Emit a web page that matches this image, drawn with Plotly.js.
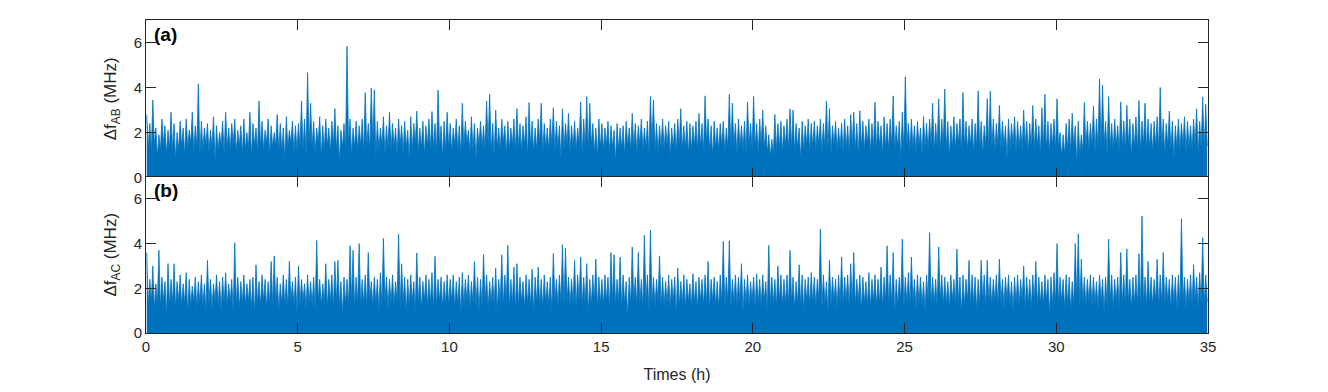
<!DOCTYPE html>
<html>
<head>
<meta charset="utf-8">
<script src="https://cdn.plot.ly/plotly-3.0.1.min.js"></script>
<style>html,body{margin:0;padding:0;background:#fff;}#chart{width:1328px;height:392px;}</style>
</head>
<body>
<div id="chart"></div>
<script>
// Time span of the record (hours) and tick labels
const T_END = 35;
const xTicks = [0, 5, 10, 15, 20, 25, 30, 35];
const yTicks = [0, 2, 4, 6];

// Panel (a): Δf_AB (MHz) — local maxima per 0.1 h window
const peaksAB = [
2.8,2.4,3.44,2.2,1.9,2.6,2.3,2.1,2.9,2.4,
2.0,2.5,2.2,2.6,2.1,2.9,2.3,4.16,2.5,2.2,
2.4,2.1,2.7,2.3,2.0,2.5,2.9,2.2,2.4,2.6,
2.1,2.3,2.6,2.0,2.9,2.4,2.2,3.4,2.5,2.1,
2.6,2.3,2.0,2.8,2.4,2.2,2.7,2.1,2.5,2.3,
2.4,3.4,2.6,4.66,3.3,2.5,2.2,2.7,2.3,2.6,
2.2,2.5,3.06,2.3,2.1,2.4,5.83,2.6,2.2,2.5,
2.3,2.6,3.77,2.4,3.98,3.9,2.5,2.2,2.7,2.3,
2.9,2.4,2.2,2.6,2.3,2.5,2.1,2.7,2.4,2.95,
2.2,2.5,2.3,2.6,2.93,2.4,3.89,2.3,2.5,2.9,
2.4,2.2,2.6,2.3,3.3,2.5,2.1,2.7,2.4,2.2,
2.5,2.3,3.4,3.7,2.4,3.0,2.2,2.6,2.3,2.5,
2.2,2.6,3.06,2.4,2.3,2.7,3.33,2.5,2.2,2.6,
3.3,2.4,2.2,2.6,3.1,2.5,2.3,3.05,2.4,2.85,
2.3,2.5,2.2,3.36,2.6,3.6,3.3,2.4,2.2,2.6,
2.4,2.2,2.5,2.3,2.1,2.4,2.2,2.3,2.5,2.2,
2.85,2.4,2.3,2.6,2.2,2.5,3.6,3.45,2.4,2.3,
2.6,2.3,2.5,2.2,2.4,2.6,3.06,2.3,2.5,2.4,
2.3,2.5,2.85,2.4,3.63,2.6,2.3,2.5,2.2,2.4,
2.5,2.2,3.7,3.3,2.4,2.6,2.3,2.5,3.35,2.4,
3.6,2.4,2.6,3.0,2.3,1.9,1.7,2.8,2.4,2.5,
2.3,2.6,3.05,3.0,2.4,2.2,2.5,2.3,2.6,2.4,
2.5,2.3,2.6,2.4,3.4,3.06,2.3,2.5,2.2,2.4,
2.6,2.3,2.8,2.9,2.4,2.97,2.5,2.3,2.6,2.4,
3.35,2.5,2.3,2.7,2.4,2.6,3.63,2.3,2.5,2.9,
4.48,2.4,2.6,2.3,2.5,2.2,2.7,2.4,2.6,3.3,
2.4,3.5,2.6,3.93,2.5,2.3,2.7,2.4,2.6,3.78,
2.5,2.3,2.6,2.4,3.85,2.5,2.3,3.5,3.83,2.6,
2.4,3.2,2.5,2.3,2.6,2.4,2.7,2.5,2.3,3.0,
2.5,2.4,3.2,2.6,2.3,3.1,3.7,2.5,2.4,2.6,
3.5,2.0,1.9,2.4,2.6,2.85,2.3,2.5,1.9,3.33,
2.5,2.4,3.17,2.6,4.38,4.1,2.5,3.6,2.4,2.6,
2.3,3.36,2.5,3.2,2.6,2.4,2.7,3.42,2.5,3.3,
2.6,2.4,2.5,2.7,4.0,2.6,2.4,2.95,2.5,2.3,
2.6,2.4,2.7,2.5,2.3,2.6,3.05,2.5,3.58,3.25
];
// Panel (a): local minima between those maxima
const troughsAB = [
1.3,1.1,1.4,0.9,1.2,1.5,1.0,1.3,1.2,0.8,
1.2,1.4,1.0,1.3,1.5,1.1,1.3,0.9,1.2,1.4,
1.1,1.3,0.7,1.2,1.4,1.0,1.3,1.2,1.5,1.1,
1.4,1.0,1.2,1.3,0.9,1.4,1.1,1.3,1.2,1.5,
1.0,1.3,1.4,1.1,1.2,0.8,1.3,1.5,1.1,1.2,
1.3,1.2,1.0,1.4,1.3,1.1,1.5,0.9,1.2,1.4,
1.1,1.4,1.2,0.7,1.3,1.2,1.4,1.0,1.3,1.2,
1.4,1.1,1.3,1.2,1.5,0.9,1.2,1.4,1.0,1.3,
1.2,1.3,1.0,1.4,1.1,1.3,0.8,1.2,1.5,1.1,
1.3,1.0,1.4,1.2,1.3,1.1,1.4,0.9,1.2,1.3,
1.1,1.4,1.2,1.0,1.3,1.5,1.1,1.2,0.8,1.4,
1.3,1.2,1.4,1.1,0.9,1.3,1.2,1.5,1.0,1.2,
1.4,1.1,1.3,1.2,1.4,0.9,1.3,1.1,1.2,1.5,
1.0,1.3,1.2,1.4,1.1,1.3,0.8,1.2,1.4,1.1,
1.3,1.2,1.5,1.0,1.3,1.2,1.4,1.1,0.9,1.3,
1.2,1.4,1.1,1.3,0.7,1.2,1.3,1.0,1.4,1.2,
1.3,1.1,1.4,1.2,1.3,1.0,1.5,1.2,1.1,1.3,
1.2,1.4,0.9,1.3,1.1,1.4,1.2,1.3,1.0,1.2,
1.4,1.2,1.3,1.1,1.5,1.2,0.9,1.3,1.2,1.4,
1.1,1.3,1.2,1.4,1.0,1.3,1.2,1.1,1.4,1.2,
1.3,1.0,1.4,1.2,1.1,0.9,1.0,1.2,1.3,1.1,
1.4,1.2,1.3,1.1,1.3,0.8,1.2,1.4,1.1,1.3,
1.2,1.4,1.1,1.3,1.2,1.0,1.4,1.2,1.3,1.1,
1.3,1.1,1.4,1.2,0.9,1.3,1.2,1.5,1.1,1.3,
1.2,1.4,1.0,1.3,1.2,1.4,1.1,1.3,0.8,1.2,
1.4,1.2,1.3,1.1,1.4,1.0,1.3,1.2,1.4,1.1,
1.3,1.1,1.4,1.2,0.9,1.3,1.2,1.5,1.1,1.3,
1.2,1.4,1.1,1.3,1.2,1.0,1.4,1.2,1.3,1.1,
1.4,1.2,1.3,0.8,1.2,1.4,1.1,1.3,1.2,1.4,
1.1,1.3,1.2,1.4,1.0,1.3,1.2,1.1,1.4,1.2,
1.3,0.9,1.0,1.2,1.1,1.3,0.6,1.0,1.1,1.3,
1.2,1.4,1.1,1.3,1.2,1.4,1.0,1.3,1.2,1.4,
1.1,1.3,1.2,1.4,0.9,1.3,1.2,1.1,1.4,1.2,
1.3,1.1,1.4,1.2,1.3,1.0,1.4,1.2,0.8,1.3,
1.2,1.4,1.1,1.3,1.2,1.4,1.0,1.3,1.2,1.4
];

// Panel (b): Δf_AC (MHz) — local maxima per 0.1 h window
const peaksAC = [
3.6,2.4,3.0,2.2,3.7,2.5,2.3,3.1,2.4,3.1,
2.3,2.6,2.2,2.7,2.4,2.1,2.5,2.3,2.6,2.2,
3.25,2.4,2.2,2.6,2.3,2.5,2.7,2.2,2.4,4.04,
2.5,2.3,2.6,2.2,2.4,2.5,3.05,2.3,2.6,2.4,
2.3,3.2,3.45,2.5,2.2,2.6,2.4,3.2,2.3,2.5,
3.0,2.4,2.2,2.6,2.3,2.5,4.14,2.4,2.2,3.1,
2.4,2.6,3.2,3.25,2.3,2.5,2.4,3.9,3.7,2.5,
4.0,2.4,2.6,3.6,2.3,2.5,2.4,2.7,4.23,2.5,
2.4,2.6,2.3,4.41,3.1,2.5,2.4,2.6,2.3,3.58,
2.5,2.3,2.6,2.4,2.7,3.43,2.4,2.5,2.3,2.6,
2.4,2.6,2.3,2.5,2.7,2.4,2.6,2.3,3.2,2.5,
2.4,3.5,2.6,2.3,2.5,2.9,2.4,3.5,2.6,3.92,
2.4,2.95,3.1,2.5,2.3,2.6,2.4,2.85,2.5,2.95,
2.4,2.6,2.3,2.5,3.55,2.4,2.6,3.95,3.8,2.5,
2.4,3.25,2.6,3.4,2.5,3.1,2.4,2.6,3.3,2.5,
2.4,2.6,2.5,3.6,3.5,2.4,3.4,2.6,2.3,2.5,
3.85,2.5,3.6,2.4,4.37,2.6,4.6,2.5,2.4,3.45,
2.5,2.3,2.6,2.4,2.5,2.9,2.3,2.6,2.4,2.2,
2.65,2.3,2.5,2.4,2.6,3.2,2.4,2.5,2.3,2.6,
4.1,2.5,4.13,2.4,2.6,2.5,3.1,2.4,2.6,2.3,
2.5,2.65,2.4,2.6,2.3,3.92,2.5,2.4,3.0,2.6,
2.4,2.6,3.7,2.5,2.3,3.05,2.6,2.4,2.5,2.7,
2.5,2.4,4.64,2.6,2.3,3.25,2.5,2.4,2.6,3.4,
2.5,2.6,3.1,3.6,2.4,2.6,2.5,2.3,2.7,2.4,
2.6,2.4,2.95,2.5,3.9,2.6,3.6,2.4,2.5,4.2,
2.5,2.7,3.4,2.4,2.6,2.5,2.3,2.6,4.49,2.5,
2.4,3.85,2.6,2.5,2.3,2.6,2.4,3.75,2.5,2.6,
2.4,3.25,2.6,2.5,2.4,3.25,2.6,3.25,2.5,2.4,
2.6,3.3,2.4,2.5,2.6,2.3,2.5,2.6,2.4,3.0,
2.5,2.4,2.6,3.2,2.5,2.3,2.6,2.4,2.5,2.7,
4.0,2.5,2.4,2.6,2.5,2.3,4.0,4.44,3.3,2.5,
2.4,2.6,2.5,2.3,2.6,2.4,2.5,4.2,2.6,2.4,
2.5,3.6,2.6,3.75,2.4,2.5,2.6,3.55,5.23,2.5,
3.2,2.5,2.4,3.3,2.6,3.6,2.5,2.4,2.6,2.5,
2.6,5.11,2.5,2.4,2.6,3.05,2.5,2.7,4.26,2.6
];
// Panel (b): local minima between those maxima
const troughsAC = [
1.2,1.4,1.0,1.3,1.1,1.4,0.8,1.2,1.3,1.1,
1.4,1.2,1.3,0.9,1.2,1.4,1.1,1.3,1.2,1.0,
1.3,1.1,1.4,1.2,1.0,1.3,1.2,1.4,0.9,1.2,
1.1,1.3,1.2,1.4,1.1,0.8,1.3,1.2,1.4,1.1,
1.3,1.2,1.4,1.0,1.3,1.2,1.1,1.4,1.2,0.9,
1.2,1.4,1.1,1.3,1.2,1.0,1.4,1.2,1.3,1.1,
1.4,1.1,1.3,1.2,0.8,1.3,1.2,1.4,1.1,1.3,
1.2,1.3,1.1,1.4,1.2,1.3,1.0,1.2,1.4,1.1,
1.3,1.2,1.4,1.1,1.3,0.9,1.2,1.4,1.0,1.3,
1.1,1.4,1.2,1.3,1.0,1.2,1.4,1.1,1.3,1.2,
1.4,1.1,1.3,0.8,1.2,1.4,1.1,1.3,1.2,1.0,
1.2,1.4,1.1,1.3,1.2,1.0,1.3,1.2,1.4,1.1,
1.3,1.0,1.2,1.4,1.1,1.3,1.2,0.9,1.3,1.2,
1.1,1.3,1.2,1.0,1.4,1.2,1.3,1.1,1.4,1.2,
1.3,1.1,1.4,1.2,1.3,0.9,1.2,1.4,1.1,1.3,
1.2,1.4,1.0,1.3,1.2,1.4,1.1,1.3,0.7,1.2,
1.4,1.2,1.3,1.1,1.4,1.0,1.3,1.2,1.4,1.1,
1.2,1.3,1.1,1.4,0.8,1.2,1.3,1.1,1.4,1.2,
1.3,1.1,1.4,1.2,1.3,1.0,1.4,1.2,1.1,1.3,
1.2,1.4,1.1,1.3,1.2,1.4,0.9,1.3,1.2,1.4,
1.1,1.3,1.2,1.4,1.0,1.2,1.3,1.1,1.4,1.2,
1.3,1.2,1.4,1.1,1.3,1.2,1.0,1.4,1.2,1.3,
1.2,1.4,1.1,1.3,0.9,1.2,1.4,1.1,1.3,1.2,
1.4,1.1,1.3,1.2,1.4,1.0,1.3,1.2,1.1,1.4,
1.2,1.3,1.1,1.4,1.2,1.3,0.8,1.2,1.4,1.1,
1.3,1.2,1.4,1.1,1.3,1.2,1.0,1.4,1.2,1.3,
1.1,1.4,1.2,1.3,1.1,1.4,1.2,1.3,0.9,1.2,
1.4,1.2,1.3,1.0,1.2,1.4,1.1,1.3,1.2,1.4,
1.2,1.3,1.1,1.4,1.2,1.0,1.3,1.2,1.4,1.1,
1.3,1.1,1.4,1.2,1.3,1.2,1.4,0.8,1.2,1.3,
1.2,1.4,1.1,1.3,1.0,1.2,1.4,1.1,1.3,1.2,
1.4,1.2,1.3,1.1,1.4,0.9,1.2,1.3,1.1,1.4,
1.1,1.3,1.2,1.4,1.1,1.3,1.2,1.0,1.3,1.2,
1.3,1.2,1.4,1.1,1.3,1.2,1.4,1.1,1.3,1.0,
1.2,1.4,1.1,1.3,1.2,1.4,1.1,1.3,1.2,1.4
];

function interleave(peaks, troughs) {
  const n = peaks.length;
  const step = T_END / n;
  const x = [], y = [];
  for (let i = 0; i < n; i++) {
    x.push(i * step + step * 0.25, i * step + step * 0.75);
    y.push(peaks[i], troughs[i]);
  }
  return {x, y};
}

const a = interleave(peaksAB, troughsAB);
const b = interleave(peaksAC, troughsAC);
const BLUE = '#0072BD';
const AX = '#262626';
const FONT = 'Liberation Sans, Arial, Helvetica, sans-serif';

const traces = [
  {x: a.x, y: a.y, xaxis: 'x', yaxis: 'y', type: 'scatter', mode: 'lines',
   line: {color: BLUE, width: 0.8}, fill: 'tozeroy', fillcolor: BLUE, hoverinfo: 'skip'},
  {x: b.x, y: b.y, xaxis: 'x2', yaxis: 'y2', type: 'scatter', mode: 'lines',
   line: {color: BLUE, width: 0.8}, fill: 'tozeroy', fillcolor: BLUE, hoverinfo: 'skip'}
];

const commonX = {
  range: [0, T_END], tickvals: xTicks, ticktext: xTicks.map(String),
  ticks: 'inside', ticklen: 10, tickcolor: AX, tickwidth: 1,
  showline: true, linecolor: AX, linewidth: 1, mirror: 'ticks',
  showgrid: false, zeroline: false,
  tickfont: {family: FONT, size: 15, color: AX}
};
const commonY = {
  range: [0, 7], tickvals: yTicks, ticktext: yTicks.map(String),
  ticks: 'inside', ticklen: 10, tickcolor: AX, tickwidth: 1,
  showline: true, linecolor: AX, linewidth: 1, mirror: 'ticks',
  showgrid: false, zeroline: false,
  tickfont: {family: FONT, size: 15, color: AX}
};

const layout = {
  width: 1328, height: 392,
  margin: {l: 146, r: 120, t: 20, b: 59},
  paper_bgcolor: '#fff', plot_bgcolor: '#fff',
  showlegend: false,
  xaxis: Object.assign({}, commonX, {anchor: 'y', showticklabels: false}),
  yaxis: Object.assign({}, commonY, {domain: [0.4968, 1], anchor: 'x',
    title: {text: 'Δf<sub>AB</sub> (MHz)', font: {family: FONT, size: 17, color: AX}, standoff: 12}}),
  xaxis2: Object.assign({}, commonX, {anchor: 'y2',
    title: {text: 'Times (h)', font: {family: FONT, size: 16, color: AX}, standoff: 14}}),
  yaxis2: Object.assign({}, commonY, {domain: [0, 0.5], anchor: 'x2',
    title: {text: 'Δf<sub>AC</sub> (MHz)', font: {family: FONT, size: 17, color: AX}, standoff: 12}}),
  annotations: [
    {text: '<b>(a)</b>', xref: 'x domain', yref: 'y domain', x: 0.006, y: 0.99,
     xanchor: 'left', yanchor: 'top', showarrow: false, font: {family: FONT, size: 19, color: '#000'}},
    {text: '<b>(b)</b>', xref: 'x2 domain', yref: 'y2 domain', x: 0.006, y: 0.99,
     xanchor: 'left', yanchor: 'top', showarrow: false, font: {family: FONT, size: 19, color: '#000'}}
  ]
};

Plotly.newPlot('chart', traces, layout, {displayModeBar: false, staticPlot: true});
</script>
</body>
</html>
